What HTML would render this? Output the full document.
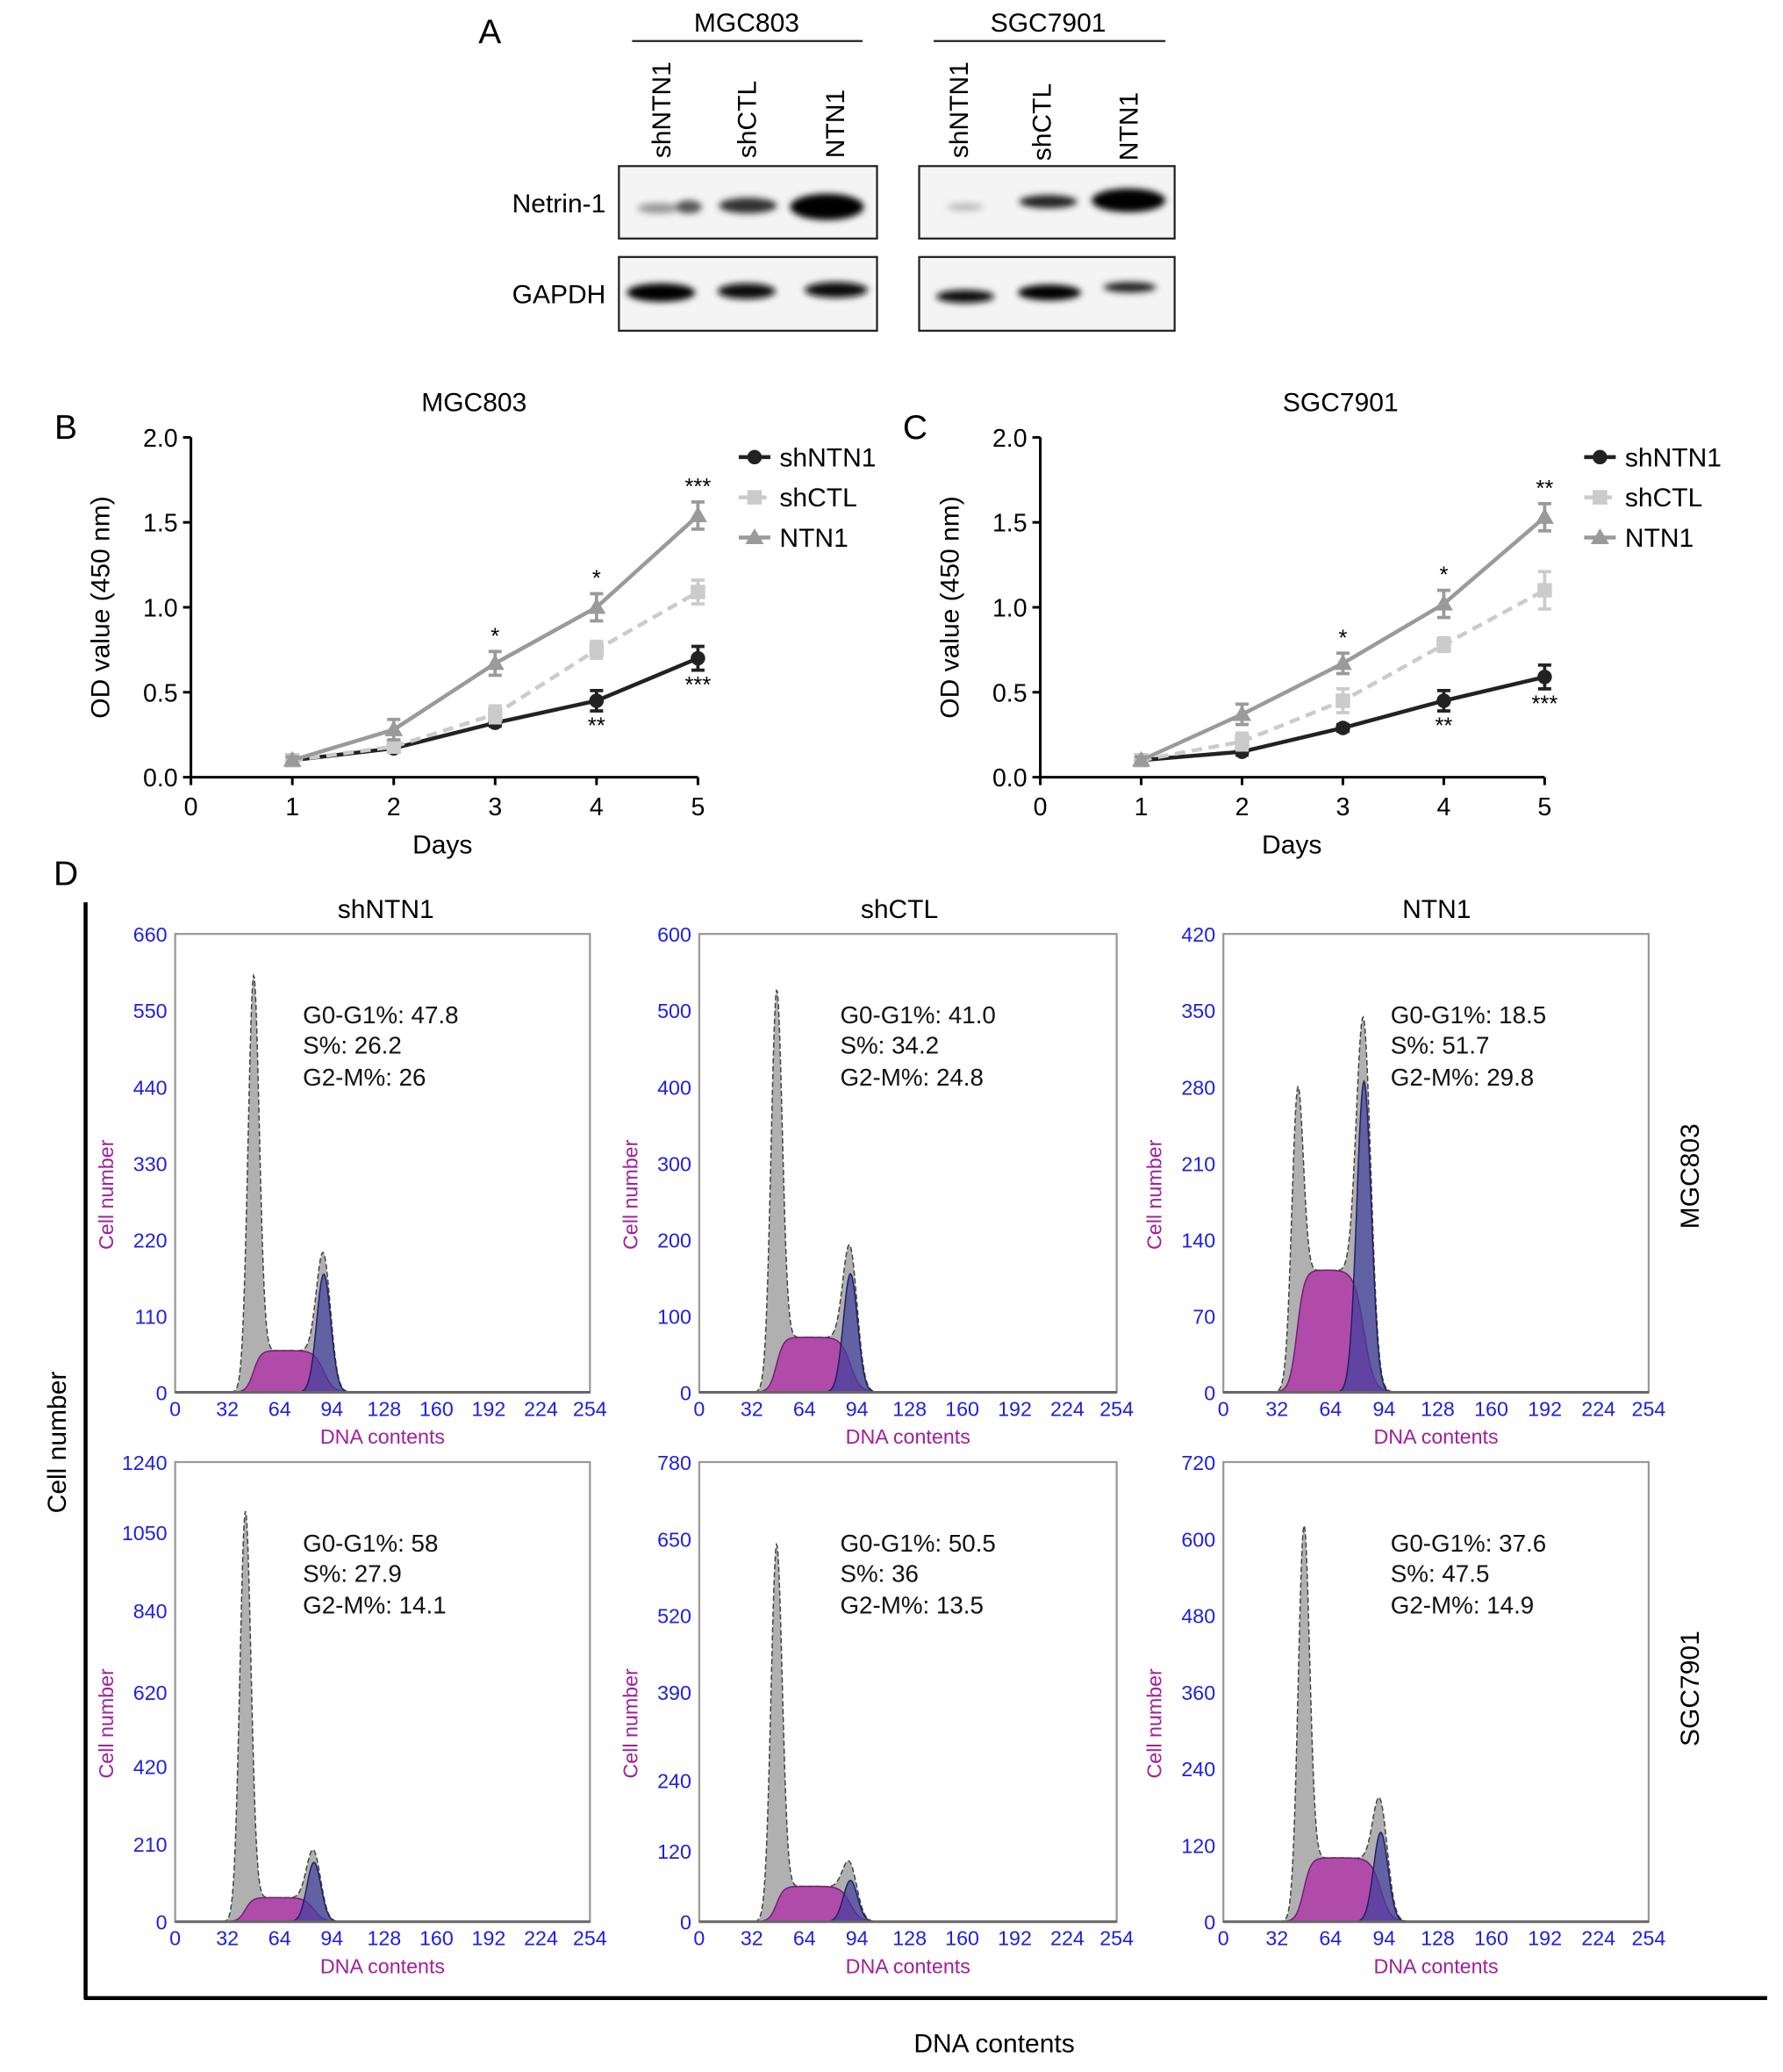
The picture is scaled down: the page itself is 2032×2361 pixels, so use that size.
<!DOCTYPE html>
<html><head><meta charset="utf-8"><style>
html,body{margin:0;padding:0;background:#fff}
svg{display:block;font-family:"Liberation Sans",sans-serif}
</style></head><body>
<svg id="fig" width="2032" height="2361" viewBox="0 0 1354 1573" xmlns="http://www.w3.org/2000/svg">
<defs>
<filter id="blur2" x="-20%" y="-50%" width="140%" height="200%"><feGaussianBlur stdDeviation="2.5"/></filter>
</defs>
<g>
<text x="372" y="33" font-size="26" text-anchor="middle">A</text>
<text x="567" y="24" font-size="20" text-anchor="middle">MGC803</text>
<line x1="480" y1="31" x2="655" y2="31" stroke="#222" stroke-width="1.5"/>
<text x="796" y="24" font-size="20" text-anchor="middle">SGC7901</text>
<line x1="709" y1="31" x2="885" y2="31" stroke="#222" stroke-width="1.5"/>
<g font-size="20">
<text transform="translate(509,120) rotate(-90)">shNTN1</text>
<text transform="translate(574,120) rotate(-90)">shCTL</text>
<text transform="translate(641,120) rotate(-90)">NTN1</text>
<text transform="translate(735,120) rotate(-90)">shNTN1</text>
<text transform="translate(798,122) rotate(-90)">shCTL</text>
<text transform="translate(864,122) rotate(-90)">NTN1</text>
</g>
<text x="460" y="161" font-size="20" text-anchor="end">Netrin-1</text>
<text x="460" y="230" font-size="20" text-anchor="end">GAPDH</text>
<rect x="470" y="126" width="196" height="55" fill="#f4f4f4" stroke="#222" stroke-width="1.5"/>
<rect x="698" y="126" width="194" height="55" fill="#f4f4f4" stroke="#222" stroke-width="1.5"/>
<rect x="470" y="195" width="196" height="56" fill="#f4f4f4" stroke="#222" stroke-width="1.5"/>
<rect x="698" y="195" width="194" height="56" fill="#f4f4f4" stroke="#222" stroke-width="1.5"/>
<g filter="url(#blur2)">
<ellipse cx="500" cy="158" rx="16" ry="4" fill="#999"/>
<ellipse cx="523" cy="157" rx="10" ry="5" fill="#555"/>
<ellipse cx="568" cy="156" rx="22" ry="6" fill="#333"/>
<ellipse cx="628" cy="157" rx="28" ry="10" fill="#000"/>
<ellipse cx="733" cy="157" rx="14" ry="3" fill="#bbb"/>
<ellipse cx="796" cy="153" rx="22" ry="5" fill="#222"/>
<ellipse cx="857" cy="152" rx="28" ry="9" fill="#000"/>
<ellipse cx="502" cy="222" rx="26" ry="7" fill="#000"/>
<ellipse cx="567" cy="221" rx="22" ry="6" fill="#111"/>
<ellipse cx="635" cy="220" rx="24" ry="6" fill="#111"/>
<ellipse cx="733" cy="225" rx="22" ry="5" fill="#111"/>
<ellipse cx="797" cy="222" rx="24" ry="6" fill="#000"/>
<ellipse cx="858" cy="218" rx="20" ry="4" fill="#222"/>
</g>
</g>
<g id="lines"></g>
<g id="flow"></g>
<g>
<text x="50" y="672" font-size="26" text-anchor="middle">D</text>
<line x1="65" y1="685" x2="65" y2="1518" stroke="#000" stroke-width="3"/>
<line x1="64" y1="1517" x2="1342" y2="1517" stroke="#000" stroke-width="3"/>
<text transform="translate(50,1095) rotate(-90)" font-size="20" text-anchor="middle">Cell number</text>
<text x="755" y="1558" font-size="20" text-anchor="middle">DNA contents</text>
<text x="293" y="697" font-size="20" text-anchor="middle">shNTN1</text>
<text x="683" y="697" font-size="20" text-anchor="middle">shCTL</text>
<text x="1091" y="697" font-size="20" text-anchor="middle">NTN1</text>
<text transform="translate(1290,893) rotate(-90)" font-size="20" text-anchor="middle">MGC803</text>
<text transform="translate(1290,1282) rotate(-90)" font-size="20" text-anchor="middle">SGC7901</text>
</g>
</svg>
<script>
const NS="http://www.w3.org/2000/svg";
function mk(parent,tag,attrs,text){const e=document.createElementNS(NS,tag);for(const k in attrs)e.setAttribute(k,attrs[k]);if(text!==undefined)e.textContent=text;parent.appendChild(e);return e;}

// ---- Line chart data ----
const days=[1,2,3,4,5];
const xTicks=[0,1,2,3,4,5];
const yTicks=[0.0,0.5,1.0,1.5,2.0];
const mgcShNTN1=[0.10,0.17,0.32,0.45,0.70];
const mgcShNTN1Err=[0.02,0.02,0.02,0.06,0.07];
const mgcShCTL=[0.10,0.18,0.37,0.75,1.09];
const mgcShCTLErr=[0.02,0.03,0.05,0.05,0.07];
const mgcNTN1=[0.10,0.28,0.67,1.00,1.54];
const mgcNTN1Err=[0.02,0.06,0.07,0.08,0.08];
const sgcShNTN1=[0.10,0.15,0.29,0.45,0.59];
const sgcShNTN1Err=[0.02,0.02,0.02,0.06,0.07];
const sgcShCTL=[0.10,0.21,0.45,0.78,1.10];
const sgcShCTLErr=[0.02,0.05,0.07,0.04,0.11];
const sgcNTN1=[0.10,0.37,0.67,1.02,1.53];
const sgcNTN1Err=[0.02,0.06,0.06,0.08,0.08];
const mgcNTN1Stars=["","","*","*","***"];
const mgcShStars=["","","","**","***"];
const sgcNTN1Stars=["","","*","*","**"];
const sgcShStars=["","","","**","***"];

function lineChart(cfg){
  const g=mk(document.getElementById('lines'),'g',{});
  
  
  const X=v=>cfg.x0+v*cfg.dx, Y=v=>590-v*129;
  mk(g,'text',{x:cfg.x0-95,y:333,'font-size':26,'text-anchor':'middle'},cfg.letter);
  const t=mk(g,'text',{x:cfg.titleX,y:312,'font-size':20,'text-anchor':'middle'},cfg.title);
  
  mk(g,'line',{x1:cfg.x0,y1:Y(2),x2:cfg.x0,y2:Y(0),stroke:'#000','stroke-width':2});
  mk(g,'line',{x1:cfg.x0,y1:Y(0),x2:X(5),y2:Y(0),stroke:'#000','stroke-width':2});
  yTicks.forEach(v=>{mk(g,'line',{x1:cfg.x0-6,y1:Y(v),x2:cfg.x0,y2:Y(v),stroke:'#000','stroke-width':2});
    const l=mk(g,'text',{x:cfg.x0-10,y:Y(v)+7,'font-size':19,'text-anchor':'end'},v.toFixed(1));
    });
  xTicks.forEach(v=>{mk(g,'line',{x1:X(v),y1:Y(0),x2:X(v),y2:Y(0)+6,stroke:'#000','stroke-width':2});
    const l=mk(g,'text',{x:X(v),y:619,'font-size':19,'text-anchor':'middle'},v);
    });
  const xl=mk(g,'text',{x:cfg.x0+191,y:648,'font-size':20,'text-anchor':'middle'},'Days');
  
  const yl=mk(g,'text',{transform:`translate(${cfg.x0-62},461) rotate(-90)`,'font-size':20,'text-anchor':'middle'},'OD value (450 nm)');
  
  cfg.series.forEach(s=>{
    const sg=mk(g,'g',{});
    
    mk(sg,'polyline',{points:days.map((d,i)=>X(d)+','+Y(s.v[i])).join(' '),fill:'none',stroke:s.c,'stroke-width':3,'stroke-dasharray':s.dash||''});
    days.forEach((d,i)=>{
      const cx=X(d),cy=Y(s.v[i]),e=s.e[i]*129;
      mk(sg,'line',{x1:cx,y1:cy-e,x2:cx,y2:cy+e,stroke:s.c,'stroke-width':2.5});
      mk(sg,'line',{x1:cx-5,y1:cy-e,x2:cx+5,y2:cy-e,stroke:s.c,'stroke-width':2.5});
      mk(sg,'line',{x1:cx-5,y1:cy+e,x2:cx+5,y2:cy+e,stroke:s.c,'stroke-width':2.5});
      let m;
      if(s.shape==='c')m=mk(sg,'circle',{cx:cx,cy:cy,r:5.5,fill:s.c});
      else if(s.shape==='s')m=mk(sg,'rect',{x:cx-5.5,y:cy-5.5,width:11,height:11,fill:s.c});
      else m=mk(sg,'polygon',{points:`${cx},${cy-7} ${cx-7},${cy+5} ${cx+7},${cy+5}`,fill:s.c});
      
      if(s.stars&&s.stars[i]){
        const above=s.starsAbove;
        mk(sg,'text',{x:cx,y:above?cy-e-6:cy+e+17,'font-size':17,'text-anchor':'middle'},s.stars[i]);
      }
    });
  });
  cfg.series.forEach((s,i)=>{
    const lg=mk(g,'g',{});
    
    const ly=347+i*30.5, lx=cfg.legX;
    mk(lg,'line',{x1:lx,y1:ly,x2:lx+24,y2:ly,stroke:s.c,'stroke-width':3,'stroke-dasharray':s.dash||''});
    if(s.shape==='c')mk(lg,'circle',{cx:lx+12,cy:ly,r:5.5,fill:s.c});
    else if(s.shape==='s')mk(lg,'rect',{x:lx+6.5,y:ly-5.5,width:11,height:11,fill:s.c});
    else mk(lg,'polygon',{points:`${lx+12},${ly-7} ${lx+5},${ly+5} ${lx+19},${ly+5}`,fill:s.c});
    mk(lg,'text',{x:lx+31,y:ly+7,'font-size':20},s.label);
  });
}
lineChart({name:'chart-b-mgc803',letter:'B',title:'MGC803',titleX:360,x0:145,dx:77,legX:561,series:[
 {key:'shntn1',label:'shNTN1',v:mgcShNTN1,e:mgcShNTN1Err,c:'#222',shape:'c',stars:mgcShStars,starsAbove:false},
 {key:'shctl',label:'shCTL',v:mgcShCTL,e:mgcShCTLErr,c:'#cbcbcb',shape:'s',dash:'8,5'},
 {key:'ntn1',label:'NTN1',v:mgcNTN1,e:mgcNTN1Err,c:'#9a9a9a',shape:'t',stars:mgcNTN1Stars,starsAbove:true}]});
lineChart({name:'chart-c-sgc7901',letter:'C',title:'SGC7901',titleX:1018,x0:790,dx:76.6,legX:1203,series:[
 {key:'shntn1',label:'shNTN1',v:sgcShNTN1,e:sgcShNTN1Err,c:'#222',shape:'c',stars:sgcShStars,starsAbove:false},
 {key:'shctl',label:'shCTL',v:sgcShCTL,e:sgcShCTLErr,c:'#cbcbcb',shape:'s',dash:'8,5'},
 {key:'ntn1',label:'NTN1',v:sgcNTN1,e:sgcNTN1Err,c:'#9a9a9a',shape:'t',stars:sgcNTN1Stars,starsAbove:true}]});

// ---- Flow cytometry data ----
const panelNames=['mgc-shntn1','mgc-shctl','mgc-ntn1','sgc-shntn1','sgc-shctl','sgc-ntn1'];
const yMax=[660,600,420,1240,780,720];
const yTickLabels=[[0,110,220,330,440,550,660],[0,100,200,300,400,500,600],[0,70,140,210,280,350,420],[0,210,420,620,840,1050,1240],[0,120,240,390,520,650,780],[0,120,240,360,480,600,720]];
const g1Pos=[48,47,44,43,47,48];
const g1Height=[570,490,220,1075,610,570];
const g2Pos=[91,92,84,85,92,94];
const g2Height=[170,155,285,160,70,140];
const sHeight=[60,72,112,65,60,100];
const g0g1=['47.8','41.0','18.5','58','50.5','37.6'];
const sPct=['26.2','34.2','51.7','27.9','36','47.5'];
const g2mPct=['26','24.8','29.8','14.1','13.5','14.9'];
const xTickVals=[0,32,64,96,128,160,192,224,254];
const xTickText=['0','32','64','94','128','160','192','224','254'];
const boxX=[133,531,929], boxW=[315,317,323];
const boxY=[709,1110], boxH=[348,349];

const flow=document.getElementById('flow');
for(let p=0;p<6;p++){
  const col=p%3,row=Math.floor(p/3);
  const bx=boxX[col],by=boxY[row],bw=boxW[col],bh=boxH[row];
  const X=c=>bx+c/254*bw, Y=v=>by+bh-v/yMax[p]*bh;
  const g=mk(flow,'g',{});
  
  
  mk(g,'rect',{x:bx,y:by,width:bw,height:bh,fill:'#fff',stroke:'#999','stroke-width':1.5});
  const sg1=3.4, sg2=4.3;
  const gs=(c,m,s)=>Math.exp(-0.5*((c-m)/s)**2);
  const sCurve=c=>{const a=1/(1+Math.exp(-(c-g1Pos[p])/2.2)),b=1/(1+Math.exp((c-g2Pos[p])/3));return sHeight[p]*a*b;};
  let tot=[],sp=[],g2p=[];
  for(let c=0;c<=254;c+=0.5){
    tot.push(X(c)+','+Y(g1Height[p]*gs(c,g1Pos[p],sg1)+sCurve(c)+g2Height[p]*gs(c,g2Pos[p],sg2)));
    sp.push(X(c)+','+Y(sCurve(c)));
    g2p.push(X(c)+','+Y(g2Height[p]*gs(c,g2Pos[p],sg2)));
  }
  const base=` ${X(254)},${Y(0)} ${X(0)},${Y(0)}`;
  const t=mk(g,'polygon',{points:tot.join(' ')+base,fill:'#b0b0b0',stroke:'#444','stroke-width':1,'stroke-dasharray':'4,2'});
  
  const s=mk(g,'polygon',{points:sp.join(' ')+base,fill:'#b03aa8','fill-opacity':0.85,stroke:'#702070','stroke-width':1});
  
  const g2=mk(g,'polygon',{points:g2p.join(' ')+base,fill:'#4040a0','fill-opacity':0.7,stroke:'#202060','stroke-width':1});
  
  mk(g,'line',{x1:bx,y1:by+bh,x2:bx+bw,y2:by+bh,stroke:'#666','stroke-width':2});
  yTickLabels[p].forEach(v=>{const l=mk(g,'text',{x:bx-6,y:Y(v)+6,'font-size':15.5,fill:'#2020e0','text-anchor':'end'},v);
    });
  xTickVals.forEach((v,i)=>{const l=mk(g,'text',{x:X(v),y:by+bh+18,'font-size':15.5,fill:'#2020e0','text-anchor':'middle'},xTickText[i]);
    });
  const xt=mk(g,'text',{x:bx+bw/2,y:by+bh+39,'font-size':15.5,fill:'#a0209a','text-anchor':'middle'},'DNA contents');
  
  const yt=mk(g,'text',{transform:`translate(${bx-47},${by+bh/2+24}) rotate(-90)`,'font-size':15.5,fill:'#a0209a','text-anchor':'middle'},'Cell number');
  
  const st=mk(g,'g',{'font-size':18.5,fill:'#111'});
  
  const sx=bx+(col===2?127:(col===1?107:97));
  mk(st,'text',{x:sx,y:by+68},'G0-G1%: '+g0g1[p]);
  mk(st,'text',{x:sx,y:by+91},'S%: '+sPct[p]);
  mk(st,'text',{x:sx,y:by+115},'G2-M%: '+g2mPct[p]);
}
</script>
</body></html>
